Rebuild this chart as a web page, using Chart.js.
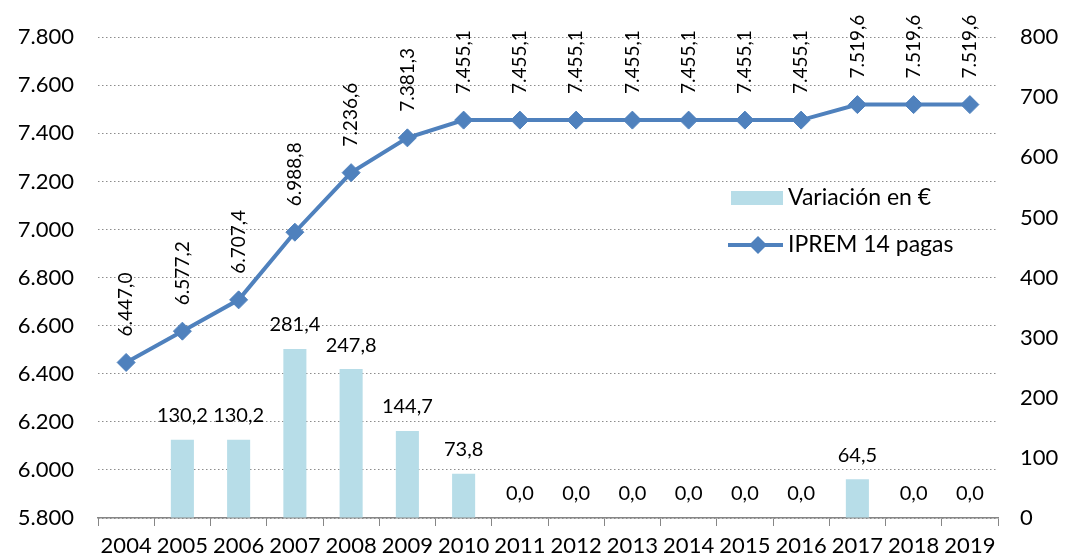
<!DOCTYPE html>
<html>
  <head>
    <meta charset="utf-8">
    <title>IPREM 14 pagas</title>
    <script src="https://cdn.jsdelivr.net/npm/chart.js"></script>
    <style>
      body { margin: 0; background: #fff; }
      #wrap { width: 1065px; height: 558px; position: relative; }
    </style>
  </head>
  <body>
    <div id="wrap"><canvas id="chart"></canvas></div>
    <script>
      // data
      const years = ['2004','2005','2006','2007','2008','2009','2010','2011','2012','2013','2014','2015','2016','2017','2018','2019'];
      const iprem = [6447.0, 6577.2, 6707.4, 6988.8, 7236.6, 7381.3, 7455.1, 7455.1, 7455.1, 7455.1, 7455.1, 7455.1, 7455.1, 7519.6, 7519.6, 7519.6];
      const variacion = [null, 130.2, 130.2, 281.4, 247.8, 144.7, 73.8, 0, 0, 0, 0, 0, 0, 64.5, 0, 0];

      const FONT = 'Lato, "Open Sans", sans-serif';
      const BAR_COLOR = '#B7DDE8';
      const LINE_COLOR = '#4F81BD';

      // spanish number format: 7.455,1
      function fmt(v, dec) {
        const parts = v.toFixed(dec).split('.');
        parts[0] = parts[0].replace(/\B(?=(\d{3})+(?!\d))/g, '.');
        return dec ? parts.join(',') : parts[0];
      }

      // draws value labels and the legend inside the plot
      const labelsPlugin = {
        id: 'labels',
        afterDatasetsDraw(chart) {
          const ctx = chart.ctx;
          ctx.save();
          ctx.fillStyle = '#000';

          // bar labels
          ctx.font = '20px ' + FONT;
          const barMeta = chart.getDatasetMeta(0);
          barMeta.data.forEach((el, i) => {
            const v = variacion[i];
            if (v === null) return;
            ctx.textAlign = 'center';
            ctx.textBaseline = 'middle';
            ctx.fillText(fmt(v, 1), el.x, el.y - 24);
          });

          // line labels, rotated
          ctx.font = '19px ' + FONT;
          const lineMeta = chart.getDatasetMeta(1);
          lineMeta.data.forEach((el, i) => {
            ctx.save();
            ctx.translate(el.x, el.y - 26);
            ctx.rotate(-Math.PI / 2);
            ctx.textAlign = 'left';
            ctx.textBaseline = 'middle';
            ctx.fillText(fmt(iprem[i], 1), 0, 0);
            ctx.restore();
          });

          // legend
          const lx = 731, ly1 = 198, ly2 = 245;
          ctx.fillStyle = BAR_COLOR;
          ctx.fillRect(lx, ly1 - 7, 52, 14);
          ctx.strokeStyle = LINE_COLOR;
          ctx.lineWidth = 4;
          ctx.beginPath();
          ctx.moveTo(lx - 3, ly2);
          ctx.lineTo(lx + 52, ly2);
          ctx.stroke();
          ctx.fillStyle = LINE_COLOR;
          ctx.beginPath();
          ctx.moveTo(lx + 27, ly2 - 9);
          ctx.lineTo(lx + 36, ly2);
          ctx.lineTo(lx + 27, ly2 + 9);
          ctx.lineTo(lx + 18, ly2);
          ctx.closePath();
          ctx.fill();
          ctx.fillStyle = '#000';
          ctx.textAlign = 'left';
          ctx.textBaseline = 'middle';
          ctx.font = '23px ' + FONT;
          ctx.fillText('Variación en €', lx + 57, ly1);
          ctx.fillText('IPREM 14 pagas', lx + 57, ly2);
          ctx.restore();
        }
      };

      new Chart(document.getElementById('chart'), {
        data: {
          labels: years,
          datasets: [
            {
              type: 'bar',
              label: 'Variación en €',
              data: variacion,
              yAxisID: 'y2',
              backgroundColor: BAR_COLOR,
              categoryPercentage: 1,
              barPercentage: 0.41,
              order: 2
            },
            {
              type: 'line',
              label: 'IPREM 14 pagas',
              data: iprem,
              yAxisID: 'y',
              borderColor: LINE_COLOR,
              backgroundColor: LINE_COLOR,
              borderWidth: 4,
              pointStyle: 'rectRot',
              pointRadius: 9,
              pointBorderWidth: 1,
              tension: 0,
              order: 1
            }
          ]
        },
        options: {
          responsive: true,
          maintainAspectRatio: false,
          animation: false,
          layout: { padding: { top: 33, left: 0, right: 0, bottom: 0 } },
          plugins: {
            legend: { display: false },
            tooltip: { enabled: false }
          },
          scales: {
            x: {
              offset: true,
              grid: {
                offset: true,
                drawOnChartArea: false,
                drawTicks: true,
                tickLength: 8,
                color: '#868686'
              },
              border: { display: true, color: '#868686', width: 1.5 },
              ticks: { color: '#000', font: { family: FONT, size: 22 }, padding: 7, maxRotation: 0, autoSkip: false },
              afterFit(scale) { scale.height = 40; }
            },
            y: {
              position: 'left',
              min: 5800,
              max: 7800,
              ticks: {
                stepSize: 200,
                color: '#000',
                font: { family: FONT, size: 22 },
                padding: 24,
                callback: v => fmt(v, 0)
              },
              grid: { color: '#8c8c8c', drawTicks: false, lineWidth: 1 },
              border: { display: false, dash: [1.5, 2.5] },
              afterFit(scale) { scale.width = 98; }
            },
            y2: {
              position: 'right',
              min: 0,
              max: 800,
              ticks: {
                stepSize: 100,
                color: '#000',
                font: { family: FONT, size: 22 },
                padding: 22
              },
              grid: { drawOnChartArea: false, drawTicks: false },
              border: { display: false },
              afterFit(scale) { scale.width = 67; }
            }
          }
        },
        plugins: [labelsPlugin]
      });
    </script>
  </body>
</html>
